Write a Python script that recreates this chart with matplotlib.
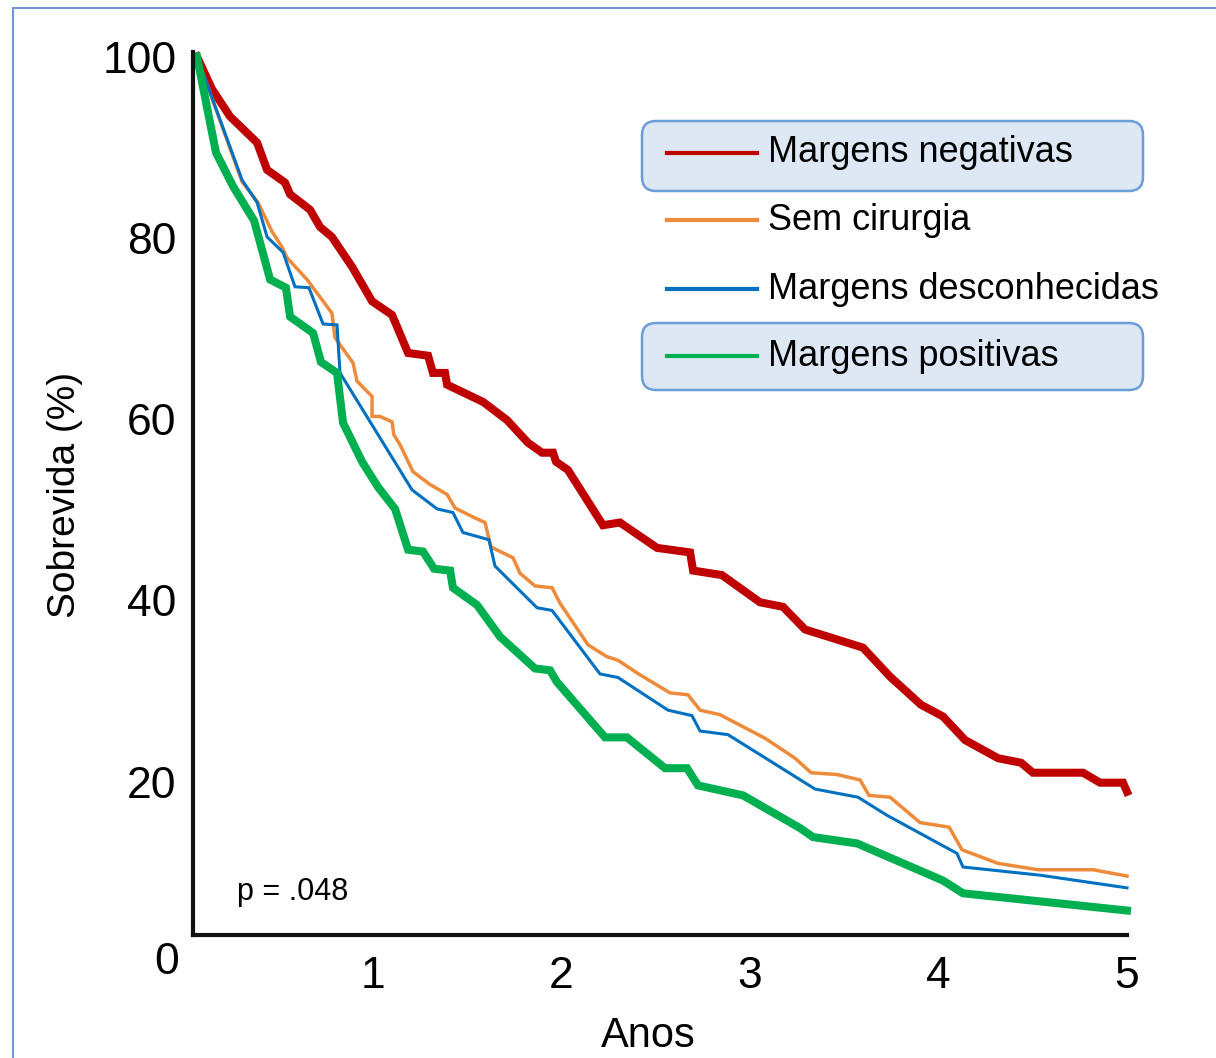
import matplotlib
matplotlib.use("Agg")
import matplotlib.pyplot as plt
from matplotlib.patches import FancyBboxPatch, Rectangle
from matplotlib.lines import Line2D
from matplotlib.transforms import IdentityTransform

plt.rcParams['font.family'] = ['Liberation Sans Narrow', 'Arial Narrow', 'Liberation Sans', 'DejaVu Sans']

# survival curves (years, % surviving)
neg_t = [0.066, 0.146, 0.241, 0.385, 0.438, 0.533, 0.560, 0.666, 0.719, 0.782, 0.889, 0.995,
         1.101, 1.186, 1.292, 1.318, 1.382, 1.393, 1.584, 1.711, 1.822, 1.897, 1.955, 1.971,
         2.034, 2.220, 2.310, 2.507, 2.682, 2.698, 2.851, 3.053, 3.175, 3.292, 3.599, 3.743,
         3.907, 4.024, 4.141, 4.316, 4.438, 4.501, 4.767, 4.857, 4.979, 5.0]
neg_s = [100.0, 96.4, 93.4, 90.5, 87.5, 86.1, 84.8, 83.1, 81.2, 80.1, 76.8, 73.0,
         71.5, 67.3, 67.0, 65.1, 65.1, 63.8, 61.9, 59.9, 57.4, 56.3, 56.3, 55.3,
         54.4, 48.3, 48.6, 45.8, 45.3, 43.3, 42.8, 39.8, 39.3, 36.8, 34.8, 31.6,
         28.5, 27.2, 24.6, 22.6, 22.1, 21.0, 21.0, 19.9, 19.9, 18.9]

sem_t = [0.066, 0.305, 0.390, 0.464, 0.517, 0.544, 0.650, 0.782, 0.798, 0.894, 0.915, 0.995,
         0.995, 1.037, 1.101, 1.110, 1.143, 1.212, 1.302, 1.393, 1.435, 1.531, 1.594, 1.626,
         1.743, 1.780, 1.859, 1.950, 1.992, 2.141, 2.241, 2.300, 2.401, 2.576, 2.671, 2.735,
         2.841, 3.080, 3.239, 3.324, 3.462, 3.584, 3.631, 3.743, 3.902, 4.056, 4.125, 4.316,
         4.528, 4.820, 5.0]
sem_s = [100.0, 86.2, 83.9, 80.7, 79.0, 77.8, 75.4, 71.7, 69.0, 66.2, 64.2, 62.5,
         60.3, 60.3, 59.7, 58.3, 57.2, 54.2, 52.8, 51.7, 50.2, 49.2, 48.6, 45.9,
         44.7, 43.0, 41.6, 41.4, 39.7, 35.1, 33.8, 33.4, 32.0, 29.8, 29.6, 27.9,
         27.4, 24.8, 22.6, 21.0, 20.8, 20.2, 18.5, 18.3, 15.5, 15.0, 12.5, 11.0,
         10.3, 10.3, 9.6]

desc_t = [0.066, 0.305, 0.385, 0.438, 0.523, 0.586, 0.660, 0.735, 0.809, 0.825, 1.207, 1.340,
          1.424, 1.477, 1.615, 1.647, 1.870, 1.950, 2.204, 2.300, 2.565, 2.692, 2.735, 2.883,
          3.345, 3.573, 3.727, 4.098, 4.130, 4.538, 5.0]
desc_s = [100.0, 86.4, 83.9, 80.1, 78.4, 74.6, 74.5, 70.5, 70.4, 65.1, 52.2, 50.1,
          49.7, 47.5, 46.7, 43.8, 39.2, 38.9, 31.9, 31.5, 27.9, 27.3, 25.6, 25.2,
          19.2, 18.3, 16.3, 12.1, 10.6, 9.7, 8.3]

pos_t = [0.066, 0.167, 0.257, 0.369, 0.454, 0.538, 0.560, 0.682, 0.724, 0.809, 0.841, 0.942,
         1.027, 1.117, 1.186, 1.265, 1.324, 1.409, 1.424, 1.552, 1.674, 1.859, 1.939, 1.976,
         2.231, 2.347, 2.549, 2.666, 2.724, 2.963, 3.265, 3.334, 3.568, 4.024, 4.130, 5.0]
pos_s = [100.0, 89.4, 85.7, 81.9, 75.4, 74.5, 71.3, 69.5, 66.3, 65.1, 59.6, 55.3,
         52.5, 50.1, 45.6, 45.4, 43.5, 43.3, 41.4, 39.5, 36.0, 32.5, 32.3, 31.0,
         24.9, 24.9, 21.5, 21.5, 19.6, 18.5, 14.9, 13.9, 13.2, 9.1, 7.7, 5.8]

series_names = ["Margens negativas", "Sem cirurgia", "Margens desconhecidas", "Margens positivas"]
colors = ["#C00000", "#ED8B3B", "#0070C0", "#00B050"]
widths = [5.8, 2.5, 2.2, 5.8]
x_ticks = [1, 2, 3, 4, 5]
y_ticks = [20, 40, 60, 80, 100]

W, H = 1216, 1058
fig = plt.figure(figsize=(W / 100, H / 100), dpi=100)
ax = fig.add_axes([193 / W, 1 - 935 / H, (1127 - 193) / W, (935 - 52) / H])

curves = [(neg_t, neg_s), (sem_t, sem_s), (desc_t, desc_s), (pos_t, pos_s)]
for (t, s), c, lw in zip(curves, colors, widths):
    ax.plot(t, s, color=c, lw=lw, solid_joinstyle='miter', clip_on=False)

ax.set_xlim(0.045, 5.0)
ax.set_ylim(3.1, 100.5)
ax.set_xticks(x_ticks)
ax.set_yticks(y_ticks)
ax.tick_params(length=0, labelsize=32)
ax.tick_params(axis='y', pad=12)
ax.tick_params(axis='x', pad=15)
for side in ['top', 'right']:
    ax.spines[side].set_visible(False)
for side in ['left', 'bottom']:
    ax.spines[side].set_linewidth(3)
    ax.spines[side].set_color('#111111')

fig.text(167 / W, 1 - 963 / H, "0", fontsize=32, ha='center', va='center')
fig.text(65 / W, 1 - 495 / H, "Sobrevida (%)", fontsize=28, rotation=90, ha='center', va='center')
fig.text(648 / W, 1 - 1036 / H, "Anos", fontsize=30, ha='center', va='center')
fig.text(237 / W, 1 - 892 / H, "p = .048", fontsize=22, ha='left', va='center')

# legend, drawn by hand (two rows sit in shaded boxes)
ident = IdentityTransform()
for top, bot in [(121, 191), (323, 390)]:
    box = FancyBboxPatch((642, H - bot), 1143 - 642, bot - top,
                         boxstyle="round,pad=0,rounding_size=14",
                         transform=ident, facecolor='#DEE8F5', edgecolor='#6A9ED8', lw=1.8)
    fig.add_artist(box)
leg_y = [153, 220, 289, 356]
for name, c, yy in zip(series_names, colors, leg_y):
    fig.add_artist(Line2D([667, 757], [H - yy, H - yy], transform=ident, color=c, lw=3))
    fig.text(768 / W, 1 - yy / H, name, fontsize=26, ha='left', va='center')

# outer frame
fig.add_artist(Rectangle((13 / W, -0.02), 1.1, 1 - 8 / H + 0.02, transform=fig.transFigure,
                         fill=False, edgecolor='#7096D6', lw=1.5, clip_on=False))

fig.savefig("out.png", dpi=100)
